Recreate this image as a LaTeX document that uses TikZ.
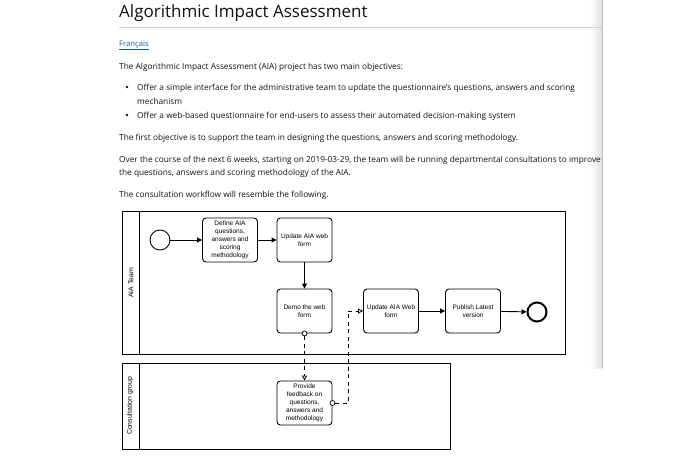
\documentclass[tikz,border=0pt]{standalone}
\usepackage{fontspec}
\setmainfont{Open Sans}
\newfontfamily\diafont{Liberation Sans}
\usetikzlibrary{arrows.meta}
\definecolor{linkblue}{HTML}{0B5CAD}
\definecolor{txt}{HTML}{111111}
\begin{document}
\begin{tikzpicture}[x=1pt,y=-1pt,
  body/.style={anchor=base west,inner sep=0,text=txt,font=\fontsize{8.3}{10}\selectfont},
  task/.style={draw,rounded corners=3.5,line width=0.9,minimum width=55,minimum height=44,align=center,inner sep=1,font=\diafont\fontsize{6.5}{7.9}\selectfont},
  pool/.style={draw,line width=0.9},
  lanelabel/.style={rotate=90,inner sep=0,font=\diafont\fontsize{6.9}{8}\selectfont},
  seq/.style={line width=0.9,-{Triangle[length=5,width=5]}},
  msg/.style={line width=0.8,dash pattern=on 4 off 3.5,-{Triangle[open,length=5,width=5,fill=white]}},
  msgdot/.style={circle,draw,fill=white,line width=0.7,minimum size=5,inner sep=0}]
\useasboundingbox (0,0) rectangle (690,460);
% panel edge with shadow
\shade[left color=white,right color=black!12] (590,0) rectangle (602,368);
\draw[black!25,line width=0.8] (602,0) -- (602,368);
% title
\node[anchor=base west,inner sep=0,text=txt,font=\fontsize{17}{20}\selectfont] (title) at (119,18) {Algorithmic Impact Assessment};
\draw[black!18,line width=0.8] (119,27) -- (602,27);
\node[anchor=base west,inner sep=0,text=linkblue,font=\fontsize{7.7}{9}\selectfont] (fr) at (119,46) {\underline{Français}};
\node[body] (p1) at (119,69) {The Algorithmic Impact Assessment (AIA) project has two main objectives:};
\node[circle,fill=txt,inner sep=0,minimum size=2.6] (b1) at (127,87) {};
\node[circle,fill=txt,inner sep=0,minimum size=2.6] (b2) at (127,115) {};
\node[body] (l1) at (137,90) {Offer a simple interface for the administrative team to update the questionnaire's questions, answers and scoring};
\node[body] (l2) at (137,104) {mechanism};
\node[body] (l3) at (137,118) {Offer a web-based questionnaire for end-users to assess their automated decision-making system};
\node[body] (p2) at (119,140) {The first objective is to support the team in designing the questions, answers and scoring methodology.};
\node[body] (p3) at (119,162) {Over the course of the next 6 weeks, starting on 2019-03-29, the team will be running departmental consultations to improve};
\node[body] (p4) at (119,175) {the questions, answers and scoring methodology of the AIA.};
\node[body] (p5) at (119,197) {The consultation workflow will resemble the following.};
% pools
\draw[pool] (122,211) rectangle (565,354);
\draw[pool] (139,211) -- (139,354);
\node[lanelabel] (aia) at (131,283) {AIA Team};
\draw[pool] (122,363) rectangle (450,449);
\draw[pool] (139,363) -- (139,449);
\node[lanelabel] (cg) at (130,406) {Consultation group};
% events
\node[circle,draw,line width=0.9,minimum size=20,inner sep=0] (start) at (160,240) {};
\node[circle,draw,line width=2,minimum size=19,inner sep=0] (end) at (537,312) {};
% tasks
\node[task] (define) at (230,240) {Define AIA\\questions,\\answers and\\scoring\\methodology};
\node[task] (upd) at (304.5,240) {Update AIA web\\form};
\node[task] (demo) at (304.5,311) {Demo the web\\form};
\node[task] (upd2) at (391,311) {Update AIA Web\\form};
\node[task] (pub) at (473,311) {Publish Latest\\version};
\node[task] (prov) at (304.5,403) {Provide\\feedback on\\questions,\\answers and\\methodology};
% sequence flows
\draw[seq] (start) -- (define);
\draw[seq] (define) -- (upd);
\draw[seq] (upd) -- (demo);
\draw[seq] (upd2) -- (pub);
\draw[seq] (pub) -- (end);
% message flows
\node[msgdot] (d1) at (demo.south) {};
\node[msgdot] (d2) at (prov.east) {};
\draw[msg] (d1.south) -- (prov.north);
\coordinate (bend1) at (348,403);
\coordinate (bend2) at (348,311);
\draw[msg] (d2.east) -- (bend1) -- (bend2) -- (upd2.west);
\end{tikzpicture}
\end{document}
